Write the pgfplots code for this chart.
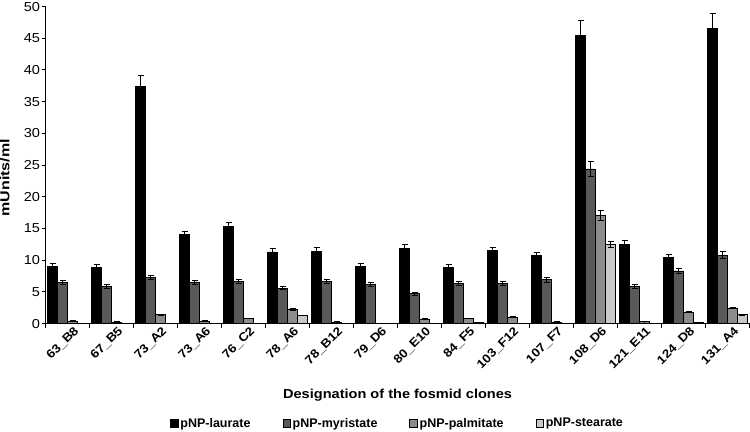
\documentclass[border=0pt]{standalone}
\usepackage{pgfplots}
\pgfplotsset{compat=1.18}
\usepackage{fontspec}
\setmainfont{Liberation Sans}[FakeStretch=1.12]
\newfontfamily\legfont{Liberation Sans}
\definecolor{myr}{RGB}{89,89,89}
\definecolor{palm}{RGB}{140,140,140}
\definecolor{stear}{RGB}{200,200,200}

% x: clone index, y: mean, e: error
\pgfplotstableread{
x lau elau myr emyr pal epal ste este
0  9.0 0.45  6.5 0.30  0.4 0.05 0.0 0.0
1  8.8 0.45  5.9 0.30  0.2 0.05 0.0 0.0
2 37.4 1.80  7.3 0.35  1.4 0.05 0.0 0.0
3 14.0 0.60  6.5 0.30  0.4 0.05 0.0 0.0
4 15.3 0.70  6.6 0.30  0.8 0.05 0.0 0.0
5 11.3 0.55  5.6 0.30  2.2 0.10 1.3 0.05
6 11.4 0.55  6.6 0.30  0.2 0.05 0.0 0.0
7  9.0 0.45  6.2 0.30  0.0 0.00 0.0 0.0
8 11.9 0.55  4.7 0.25  0.7 0.05 0.0 0.0
9  8.8 0.45  6.3 0.30  0.8 0.05 0.2 0.02
10 11.5 0.55  6.3 0.30  1.0 0.05 0.0 0.0
11 10.7 0.55  6.9 0.35  0.2 0.05 0.0 0.0
12 45.5 2.30 24.4 1.20 17.0 0.80 12.5 0.50
13 12.5 0.65  5.8 0.30  0.3 0.05 0.0 0.0
14 10.4 0.50  8.3 0.40  1.8 0.08 0.2 0.02
15 46.6 2.30 10.8 0.50  2.4 0.10 1.4 0.06
}\data

\begin{document}
\begin{tikzpicture}
\begin{axis}[
  scale only axis,
  width=704pt, height=317pt,
  ybar, bar width=0.227,
  xmin=-0.5, xmax=15.5,
  ymin=0, ymax=50,
  axis lines*=left,
  axis line style={-, line width=1pt},
  ytick={0,5,...,50},
  xtick={0,...,15},
  xticklabels={63\_B8,67\_B5,73\_A2,73\_A6,76\_C2,78\_A6,78\_B12,79\_D6,80\_E10,84\_F5,103\_F12,107\_F7,108\_D6,121\_E11,124\_D8,131\_A4},
  minor xtick={-0.5,0.5,...,15.5},
  major x tick style={draw=none},
  minor x tick style={line width=1pt, black},
  major y tick style={line width=1pt, black},
  tick align=outside,
  major tick length=3.5pt, minor tick length=4pt,
  x tick label style={rotate=45, anchor=north east, font=\fontsize{12}{14}\selectfont\bfseries, inner sep=1pt, xshift=6pt, yshift=-2pt},
  y tick label style={font=\fontsize{13}{15}\selectfont, inner sep=2pt},
  /pgf/number format/assume math mode=true,
  xlabel={Designation of the fosmid clones},
  ylabel={\scalebox{1.1}[1]{mUnits/ml}},
  xlabel style={at={(0.5,-0.225)}, anchor=center, font=\fontsize{13}{15}\selectfont\bfseries},
  ylabel style={at={(-0.058,0.46)}, anchor=center, inner sep=0pt, font=\fontsize{13}{15}\selectfont\bfseries},
  legend style={at={(0.5,-0.315)}, anchor=center, draw=none, legend columns=4,
    font=\legfont\fontsize{12.5}{14}\selectfont\bfseries, inner sep=1pt,
    /tikz/every even column/.append style={column sep=30pt}},
  legend image code/.code={\draw[#1, line width=0.6pt] (0pt,-3.8pt) rectangle (7.6pt,3.8pt);},
  error bars/y dir=both, error bars/y explicit,
  error bars/error bar style={line width=0.9pt, black},
  error bars/error mark options={rotate=90, mark size=3pt, line width=0.9pt, black},
  every axis plot/.append style={draw=black, line width=0.6pt},
]
\addplot[fill=black, bar shift=-0.3405] table[x=x, y=lau, y error=elau] {\data};
\addlegendentry{pNP-laurate}
\addplot[fill=myr, bar shift=-0.1135] table[x=x, y=myr, y error=emyr] {\data};
\addlegendentry{pNP-myristate}
\addplot[fill=palm, bar shift=0.1135] table[x=x, y=pal, y error=epal] {\data};
\addlegendentry{pNP-palmitate}
\addplot[fill=stear, bar shift=0.3405] table[x=x, y=ste, y error=este] {\data};
\addlegendentry{pNP-stearate}
\end{axis}
\end{tikzpicture}
\end{document}
